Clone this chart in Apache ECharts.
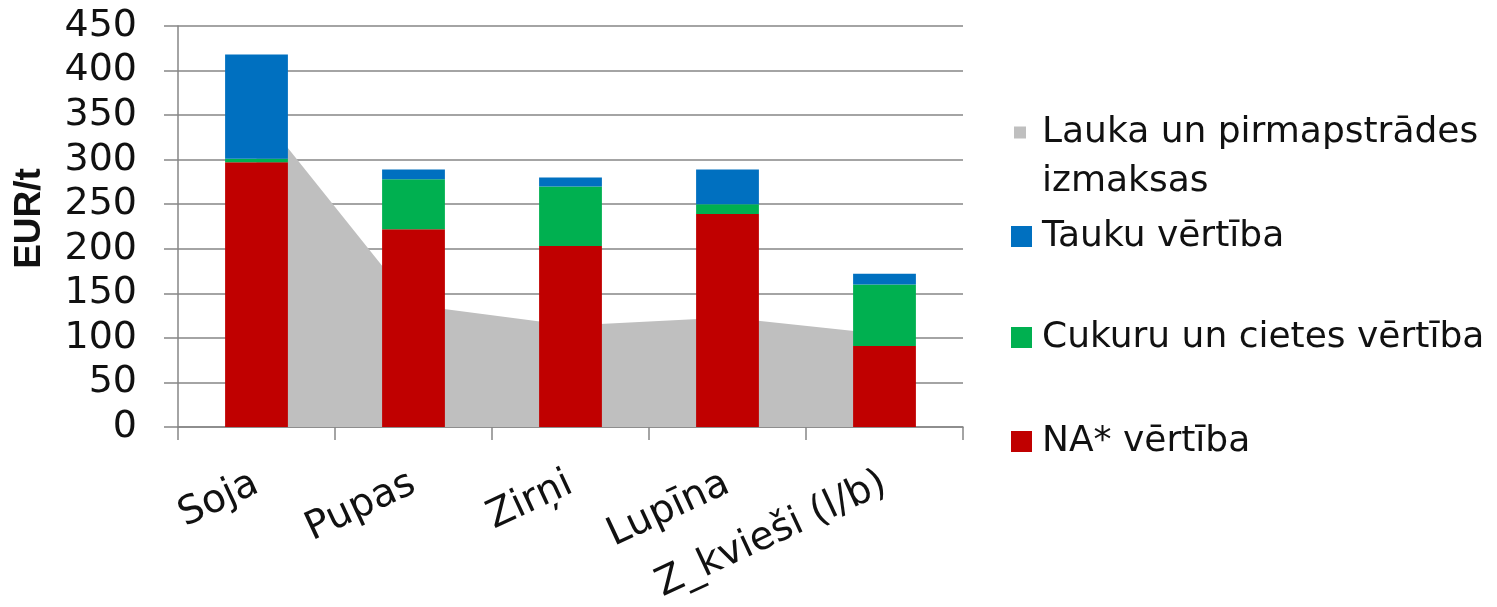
<!DOCTYPE html>
<html><head><meta charset="utf-8">
<script src="https://cdn.jsdelivr.net/npm/echarts@6/dist/echarts.min.js"></script>
<style>html,body{margin:0;padding:0;background:#fff}#c{width:1497px;height:607px}</style>
</head><body><div id="c"></div>
<script>
const categories = ['Soja', 'Pupas', 'Zirņi', 'Lupīna', 'Z_kvieši (l/b)'];
const naValues = [297, 222, 203, 239, 91];
const cukuruValues = [4, 56, 67, 11, 69];
const taukuValues = [117, 11, 10, 39, 12];
const laukaValues = [357, 137, 114, 123, 104];
const yTicks = [0, 50, 100, 150, 200, 250, 300, 350, 400, 450];

const FONT = 'DejaVu Sans';
const chart = echarts.init(document.getElementById('c'));
function legendFor(name, top, small) {
  return {
    data: [name], left: small ? 1009 : 1006, top: top, orient: 'vertical',
    itemWidth: small ? 12 : 21, itemHeight: small ? 12 : 21, icon: 'rect',
    selectedMode: false,
    formatter: n => n === 'Lauka un pirmapstrādes izmaksas' ? '\nLauka un pirmapstrādes\nizmaksas' : n,
    textStyle: { fontFamily: FONT, fontSize: 36, color: '#111', lineHeight: 49,
      padding: small ? [0, 0, 0, 11] : [0, 0, 0, 5] }
  };
}
chart.setOption({
  animation: false,
  grid: { left: 178, right: 534, top: 26, bottom: 180 },
  legend: [
    legendFor('Lauka un pirmapstrādes izmaksas', 54, true),
    legendFor('Tauku vērtība', 207, false),
    legendFor('Cukuru un cietes vērtība', 308, false),
    legendFor('NA* vērtība', 412, false)
  ],
  xAxis: {
    type: 'category', data: categories, boundaryGap: true,
    axisLine: { lineStyle: { color: '#868686', width: 1.5 } },
    axisTick: { show: true, length: 13, lineStyle: { color: '#868686', width: 1.5 } },
    axisLabel: { rotate: 25, fontFamily: FONT, fontSize: 39, color: '#111', margin: 55, interval: 0 }
  },
  yAxis: {
    type: 'value', min: 0, max: 450, interval: 50,
    name: 'EUR/t', nameLocation: 'middle', nameGap: 130,
    nameTextStyle: { fontFamily: 'Liberation Sans Narrow, Liberation Sans', fontSize: 37, fontWeight: 'bold', color: '#111',
      padding: [0, 0, 0, 16] },
    axisLine: { show: true, lineStyle: { color: '#868686', width: 1.5 } },
    axisTick: { show: true, length: 14, lineStyle: { color: '#868686', width: 1.5 } },
    splitLine: { lineStyle: { color: '#868686', width: 1.5 } },
    axisLabel: { fontFamily: FONT, fontSize: 38, color: '#111', margin: 41,
      formatter: v => yTicks.includes(v) ? String(v) : '' }
  },
  series: [
    { name: 'Lauka un pirmapstrādes izmaksas', type: 'line', data: laukaValues,
      symbol: 'none', lineStyle: { width: 0 }, color: '#BFBFBF',
      areaStyle: { color: '#BFBFBF', opacity: 1 }, z: 1 },
    { name: 'NA* vērtība', type: 'bar', stack: 's', data: naValues, color: '#C00000', barWidth: '40%', z: 3 },
    { name: 'Cukuru un cietes vērtība', type: 'bar', stack: 's', data: cukuruValues, color: '#00B050', barWidth: '40%', z: 3 },
    { name: 'Tauku vērtība', type: 'bar', stack: 's', data: taukuValues, color: '#0070C0', barWidth: '40%', z: 3 }
  ]
});
</script></body></html>
